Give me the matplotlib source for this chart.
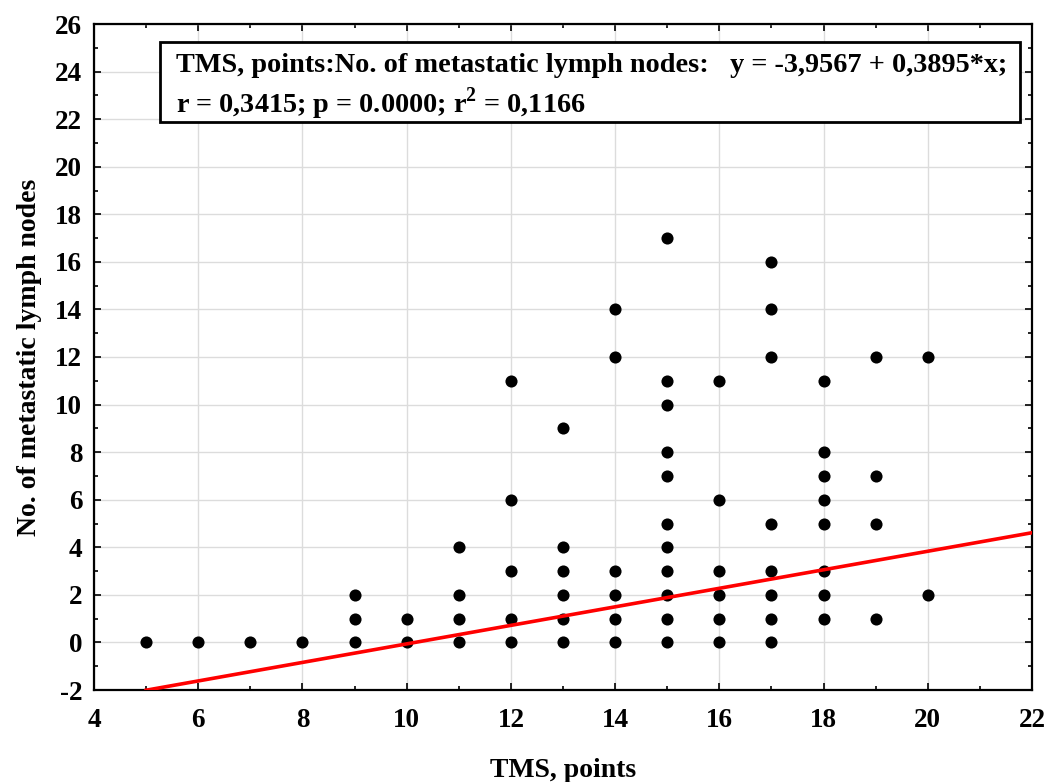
import matplotlib
matplotlib.use("Agg")
import matplotlib.pyplot as plt
from matplotlib.ticker import MultipleLocator, FormatStrFormatter
from matplotlib.patches import Rectangle

# Data
x_tms = [5, 6, 7, 8,
         9, 9, 9,
         10, 10,
         11, 11, 11, 11,
         12, 12, 12, 12, 12,
         13, 13, 13, 13, 13, 13,
         14, 14, 14, 14, 14, 14,
         15, 15, 15, 15, 15, 15, 15, 15, 15, 15, 15,
         16, 16, 16, 16, 16, 16,
         17, 17, 17, 17, 17, 17, 17, 17,
         18, 18, 18, 18, 18, 18, 18, 18,
         19, 19, 19, 19,
         20, 20]
y_nodes = [0, 0, 0, 0,
           0, 1, 2,
           0, 1,
           0, 1, 2, 4,
           0, 1, 3, 6, 11,
           0, 1, 2, 3, 4, 9,
           0, 1, 2, 3, 12, 14,
           0, 1, 2, 3, 4, 5, 7, 8, 10, 11, 17,
           0, 1, 2, 3, 6, 11,
           0, 1, 2, 3, 5, 12, 14, 16,
           1, 2, 3, 5, 6, 7, 8, 11,
           1, 5, 7, 12,
           2, 12]
intercept = -3.9567
slope = 0.3895
fit_x = [5, 22]
fit_y = [intercept + slope * v for v in fit_x]

plt.rcParams["mathtext.fontset"] = "custom"
plt.rcParams["mathtext.rm"] = "Liberation Serif:bold"
plt.rcParams["mathtext.bf"] = "Liberation Serif:bold"

W, H = 1048, 782
fig = plt.figure(figsize=(W / 100, H / 100), dpi=100)
ax = fig.add_axes([94 / W, 1 - 690 / H, (1032 - 94) / W, (690 - 24) / H])

ax.scatter(x_tms, y_nodes, s=76, color="black", zorder=3, linewidths=0)
ax.plot(fit_x, fit_y, color="#ff0000", lw=2.6, zorder=4, clip_on=True)

ax.set_xlim(4, 22)
ax.set_ylim(-2, 26)
ax.xaxis.set_major_locator(MultipleLocator(2))
ax.xaxis.set_minor_locator(MultipleLocator(1))
ax.yaxis.set_major_locator(MultipleLocator(2))
ax.yaxis.set_minor_locator(MultipleLocator(1))
ax.xaxis.set_major_formatter(FormatStrFormatter("%d"))
ax.yaxis.set_major_formatter(FormatStrFormatter("%d"))
ax.grid(True, which="major", color="#dcdcdc", lw=1)
ax.set_axisbelow(True)
ax.tick_params(which="both", direction="in", top=True, right=True, width=1.2)
ax.tick_params(which="major", length=5)
ax.tick_params(which="minor", length=3)
ax.tick_params(axis="x", pad=13)
ax.tick_params(axis="y", pad=8.5)
for sp in ax.spines.values():
    sp.set_linewidth(1.6)
for lab in ax.get_xticklabels() + ax.get_yticklabels():
    lab.set_fontfamily("Liberation Serif")
    lab.set_fontweight("bold")
    lab.set_fontsize(19.5)

lab_font = dict(family="Liberation Serif", weight="bold", size=20)
ax.set_xlabel("TMS, points", **lab_font)
ax.xaxis.label.set_va("baseline")
ax.xaxis.set_label_coords(0.5, -0.1306)
ax.set_ylabel("No. of metastatic lymph nodes", **lab_font)
ax.yaxis.set_label_coords(-0.0554, 0.5)

# Annotation box
ax.add_patch(Rectangle((0.0704, 0.8529), 0.9872 - 0.0704, 0.973 - 0.8529,
                       transform=ax.transAxes, fc="white", ec="black", lw=2,
                       zorder=5))
box_font = dict(family="Liberation Serif", weight="bold", size=20.3,
                transform=ax.transAxes, va="baseline", zorder=6)
ax.text(0.0874, 0.928,
        "TMS, points:No. of metastatic lymph nodes:   y = -3,9567 + 0,3895*x;",
        ha="left", **box_font)
ax.text(0.0874, 0.8664, r"r = 0,3415; p = 0.0000; r$^{\mathbf{2}}$ = 0,1166",
        ha="left", **box_font)

fig.savefig("out.png", dpi=100)
